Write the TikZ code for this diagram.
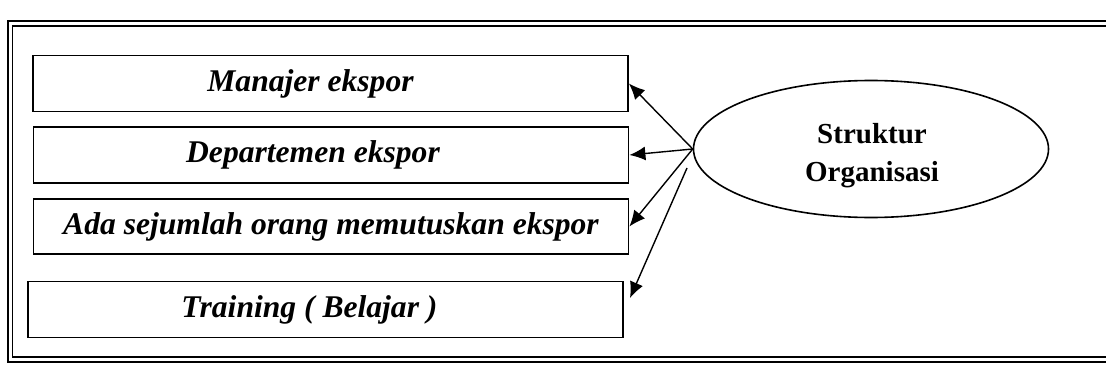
\documentclass[tikz,border=0pt]{standalone}
\usepackage{fontspec}
\setmainfont{Liberation Serif}
\usetikzlibrary{arrows.meta,shapes.geometric}
\begin{document}
\begin{tikzpicture}[x=0.5pt,y=-0.5pt,
  itembox/.style={draw,line width=0.9pt,minimum width=297.5pt,minimum height=28pt,inner sep=0pt,
    font=\fontsize{15.8}{18}\selectfont\bfseries\itshape},
  arr/.style={line width=0.7pt,-{Latex[length=8pt,width=7pt]}}]
\useasboundingbox (0,0) rectangle (1106,369);
% frame (double line)
\draw[line width=1.3pt] (1110,21) -- (8,21) -- (8,362) -- (1110,362);
\draw[line width=0.6pt] (1110,26) -- (12.5,26) -- (12.5,357) -- (1110,357);
% boxes
\node[itembox] (b1) at (330.5,83.5) {\hspace*{-20pt}Manajer ekspor};
\node[itembox] (b2) at (331,155) {\hspace*{-18pt}Departemen ekspor};
\node[itembox,minimum height=27.5pt] (b3) at (331,226.5) {Ada sejumlah orang memutuskan ekspor};
\node[itembox] (b4) at (325.5,309.5) {\hspace*{-16pt}Training ( Belajar )};
% ellipse
\node[draw,ellipse,line width=0.8pt,minimum width=177.5pt,minimum height=68.5pt,inner sep=0pt] (o) at (871,149) {};
\node[align=center,font=\fontsize{14.5}{19}\selectfont\bfseries] (ot) at (872,156) {Struktur\\Organisasi};
\coordinate (s4) at (687,168);
\coordinate (t4) at (630,298);
\draw[arr] (o.west) -- (b1.east);
\draw[arr] (o.west) -- (b2.east);
\draw[arr] (o.west) -- (b3.east);
\draw[arr] (s4) -- (t4);
\end{tikzpicture}
\end{document}
